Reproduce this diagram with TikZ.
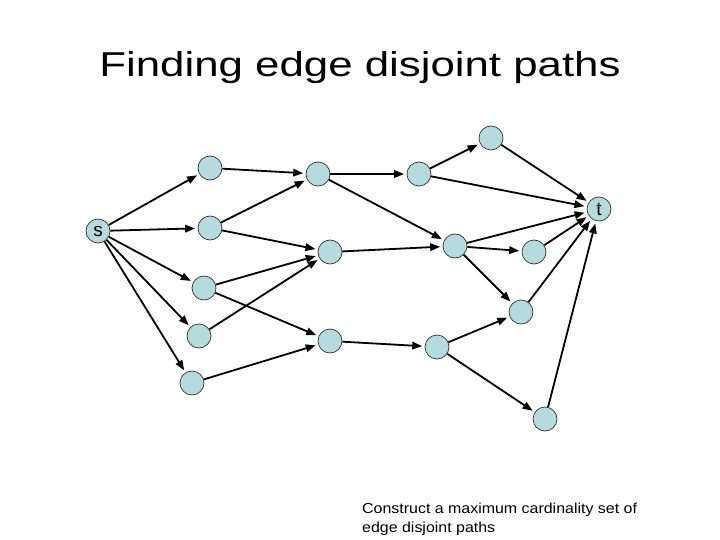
\documentclass[tikz,border=0pt]{standalone}
\usepackage{fontspec}
\setmainfont{Liberation Sans}
\usetikzlibrary{arrows.meta}
\definecolor{nodefill}{RGB}{182,219,223}
\begin{document}
\begin{tikzpicture}[x=1pt,y=-1pt,
  vtx/.style={circle,draw=black!80,line width=0.7pt,fill=nodefill,minimum size=24pt,inner sep=0pt,font=\fontsize{19}{19}\selectfont},
  arc/.style={line width=1.8pt,-{Triangle[length=10pt,width=7.5pt]},shorten >=2.5pt}]
\useasboundingbox (0,0) rectangle (720,540);
\node[anchor=base] (title) at (360,77) {\scalebox{1.27}[1]{\fontsize{34.5}{34.5}\selectfont Finding edge disjoint paths}};
\node[vtx] (s) at (98,231) {s};
\node[vtx] (a1) at (210,168) {};
\node[vtx] (a2) at (210,228) {};
\node[vtx] (a3) at (204,288) {};
\node[vtx] (a4) at (199,336) {};
\node[vtx] (a5) at (192,383) {};
\node[vtx] (b1) at (318,174) {};
\node[vtx] (b2) at (330,252) {};
\node[vtx] (b3) at (330,341) {};
\node[vtx] (c1) at (419,174) {};
\node[vtx] (c2) at (455,246) {};
\node[vtx] (c3) at (437,347) {};
\node[vtx] (d1) at (491,138) {};
\node[vtx] (d2) at (534,252) {};
\node[vtx] (e) at (521,312) {};
\node[vtx] (f) at (545,419) {};
\node[vtx] (t) at (599,209) {t};
\foreach \u/\v in {s/a1,s/a2,s/a3,s/a4,s/a5,a1/b1,a2/b1,a2/b2,a3/b2,a3/b3,a4/b2,a5/b3,
  b1/c1,b1/c2,b2/c2,b3/c3,c1/d1,c1/t,d1/t,c2/t,c2/d2,c2/e,d2/t,c3/e,c3/f,e/t,f/t}
  \draw[arc] (\u) -- (\v);
\node[anchor=base west,align=left,inner sep=0pt,font=\fontsize{14.5}{19}\selectfont] (note) at (362,532)
  {\scalebox{1.1}[1]{Construct a maximum cardinality set of}\\
   \scalebox{1.1}[1]{edge disjoint paths}};
\end{tikzpicture}
\end{document}
